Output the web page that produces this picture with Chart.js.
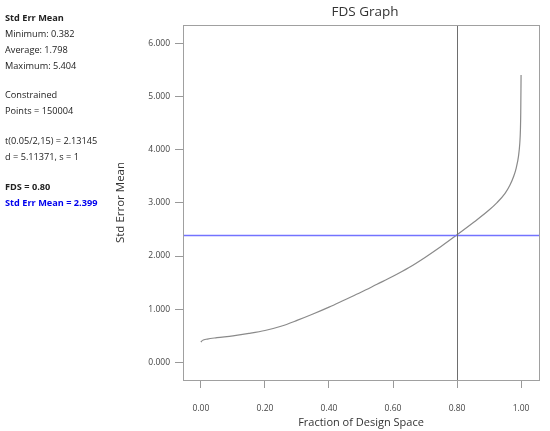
<!DOCTYPE html>
<html>
<head>
<meta charset="utf-8">
<script src="https://cdn.jsdelivr.net/npm/chart.js@4.4.1/dist/chart.umd.min.js"></script>
<style>
  html, body { margin: 0; padding: 0; background: #fff; }
  #wrap { position: relative; width: 550px; height: 431px; overflow: hidden; }
  #c { position: absolute; left: 0; top: 0; }
  .ln { position: absolute; left: 5px; font-family: "Open Sans", "Noto Sans", sans-serif; font-size: 9.2px; line-height: 12px; height: 12px; color: #222; white-space: pre; }
  .b { font-weight: bold; }
  .blue { color: #0000ee; font-weight: bold; }
  #title { position: absolute; left: 187px; width: 356px; top: 2px; text-align: center; font-family: "Open Sans", "Noto Sans", sans-serif; font-size: 13.5px; color: #333; }
</style>
</head>
<body>
<div id="wrap">
  <canvas id="c" width="550" height="431"></canvas>
  <div id="title">FDS Graph</div>
  <div class="ln b" style="top:12px">Std Err Mean</div>
  <div class="ln" style="top:28px">Minimum: 0.382</div>
  <div class="ln" style="top:44px">Average: 1.798</div>
  <div class="ln" style="top:60px">Maximum: 5.404</div>
  <div class="ln" style="top:89px">Constrained</div>
  <div class="ln" style="top:105px">Points = 150004</div>
  <div class="ln" style="top:135px">t(0.05/2,15) = 2.13145</div>
  <div class="ln" style="top:151px">d = 5.11371, s = 1</div>
  <div class="ln b" style="top:181px">FDS = 0.80</div>
  <div class="ln blue" style="top:197px">Std Err Mean = 2.399</div>
</div>
<script>
// Fraction of design space (x) and standard error of mean (y)
const fdsX = [0, 0.005, 0.02, 0.05, 0.10, 0.15, 0.20, 0.25, 0.30, 0.35, 0.40, 0.45, 0.50, 0.55, 0.60, 0.65, 0.70, 0.75, 0.80, 0.85, 0.90, 0.925, 0.95, 0.965, 0.977, 0.985, 0.992, 0.996, 0.998, 0.999, 1.0];
const seMean = [0.382, 0.415, 0.44, 0.465, 0.50, 0.545, 0.60, 0.68, 0.79, 0.91, 1.04, 1.18, 1.32, 1.47, 1.62, 1.785, 1.975, 2.18, 2.399, 2.625, 2.865, 3.005, 3.18, 3.33, 3.50, 3.66, 3.88, 4.12, 4.38, 4.70, 5.404];
const fdsValue = 0.80;
const seAtFds = 2.399;
const xTicks = [0, 0.2, 0.4, 0.6, 0.8, 1.0];
const yTicks = [0, 1, 2, 3, 4, 5, 6];

const curve = fdsX.map((x, i) => ({ x: x, y: seMean[i] }));

const boxPlugin = {
  id: 'boxAndCross',
  afterDatasetsDraw(chart) {
    const { ctx, chartArea: a, scales } = chart;
    ctx.save();
    // horizontal line at SE value
    const yh = Math.round(scales.y.getPixelForValue(seAtFds)) + 0.5;
    ctx.lineWidth = 1.4;
    ctx.strokeStyle = 'rgb(115,115,255)';
    ctx.beginPath(); ctx.moveTo(a.left, yh); ctx.lineTo(a.right, yh); ctx.stroke();
    // vertical line at FDS
    ctx.lineWidth = 1;
    const xv = Math.round(scales.x.getPixelForValue(fdsValue)) + 0.5;
    ctx.strokeStyle = '#6e6e6e';
    ctx.beginPath(); ctx.moveTo(xv, a.top); ctx.lineTo(xv, a.bottom); ctx.stroke();
    // frame
    ctx.strokeStyle = '#a0a0a0';
    ctx.strokeRect(Math.round(a.left) + 0.5, Math.round(a.top) + 0.5, Math.round(a.right - a.left), Math.round(a.bottom - a.top));
    ctx.restore();
  }
};

new Chart(document.getElementById('c'), {
  type: 'scatter',
  data: {
    datasets: [{
      data: curve,
      showLine: true,
      borderColor: '#8a8a8a',
      borderWidth: 1.2,
      pointRadius: 0,
      cubicInterpolationMode: 'monotone',
      fill: false
    }]
  },
  options: {
    responsive: false,
    animation: false,
    events: [],
    layout: { padding: { left: 112, right: 11, top: 25, bottom: 0 } },
    plugins: { legend: { display: false }, tooltip: { enabled: false }, title: { display: false } },
    scales: {
      x: {
        type: 'linear',
        min: -0.056, max: 1.056,
        afterFit(s) { s.height = 51; },
        afterBuildTicks(s) { s.ticks = xTicks.map(v => ({ value: v })); },
        grid: { drawOnChartArea: false, drawTicks: true, tickLength: 8, color: '#999' },
        border: { display: false },
        ticks: { padding: 15, color: '#444', font: { family: 'Open Sans', size: 8.5 }, callback: v => Number(v).toFixed(2), maxRotation: 0 },
        title: { display: true, text: 'Fraction of Design Space', color: '#333', font: { family: 'Open Sans', size: 11 }, padding: { top: 0, bottom: 2 } }
      },
      y: {
        type: 'linear',
        min: -0.33, max: 6.344,
        afterFit(s) { s.width = 71; },
        afterBuildTicks(s) { s.ticks = yTicks.map(v => ({ value: v })); },
        grid: { drawOnChartArea: false, drawTicks: true, tickLength: 8, color: '#999' },
        border: { display: false },
        ticks: { padding: 5, color: '#444', font: { family: 'Open Sans', size: 8.5 }, callback: v => Number(v).toFixed(3) },
        title: { display: true, text: 'Std Error Mean', color: '#333', font: { family: 'Open Sans', size: 11.5 }, padding: { top: 2, bottom: 0 } }
      }
    }
  },
  plugins: [boxPlugin]
});
</script>
</body>
</html>
